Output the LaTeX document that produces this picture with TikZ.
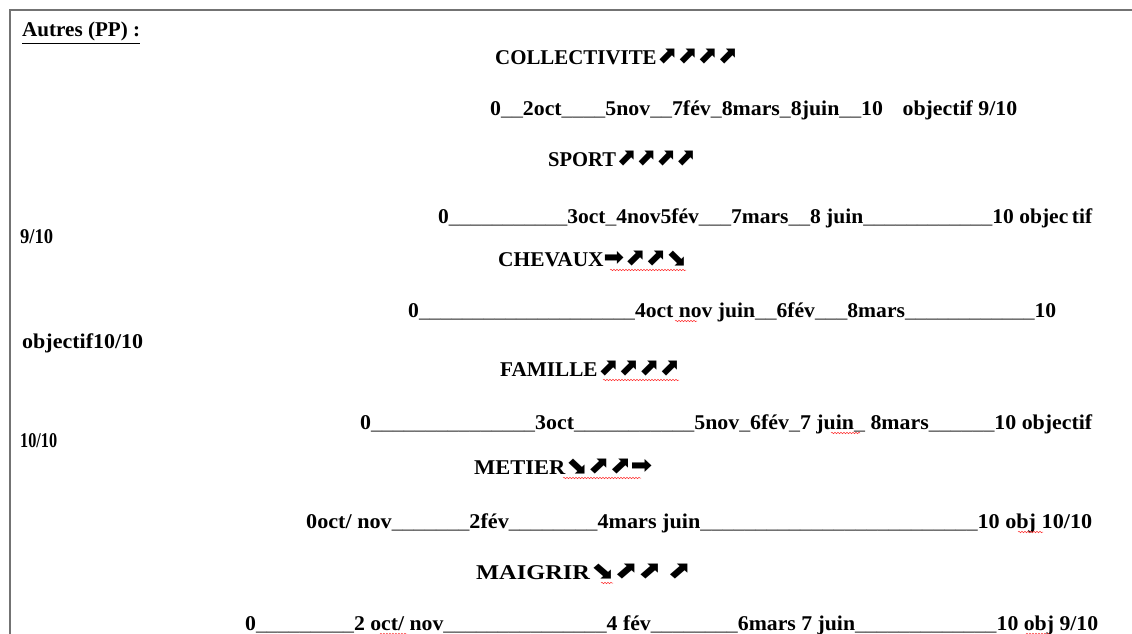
\documentclass[tikz,border=0pt]{standalone}
\usepackage{fontspec}
\setmainfont{Liberation Serif}
\newfontfamily\fleches{DejaVu Sans}
\usetikzlibrary{decorations.pathmorphing}

\newcommand\trait[1]{\textcolor{black!60}{\foreach \n in {1,...,#1}{\_}}}
\newcommand\cale[2]{\resizebox{#1pt}{\height}{#2}}
\newcommand\hausse{{\fleches\raisebox{0.5pt}{\scalebox{1.15}{⬈}}}}
\newcommand\baisse{{\fleches\raisebox{0.5pt}{\scalebox{1.15}{⬊}}}}
\newcommand\stable{{\fleches\raisebox{0.5pt}{\scalebox{1.15}{➡}}}}

\begin{document}
\begin{tikzpicture}[
    x=1pt, y=-1pt,
    titre/.style={anchor=base west, inner sep=0pt, font=\fontsize{21}{22}\selectfont\bfseries},
    ligne/.style={anchor=base west, inner sep=0pt, font=\fontsize{21}{22}\selectfont\bfseries},
    faute/.style={draw=red!80, line width=0.5pt, decorate, decoration={snake, amplitude=0.7pt, segment length=3pt}},
    cadre/.style={draw=black!55, line width=1.5pt}
]
    \useasboundingbox[fill=white] (0,0) rectangle (1132,634);
    \draw[cadre] (10,634) -- (10,10) -- (1132,10);

    \node[ligne] (autres) at (22,37) {\cale{118}{\underline{Autres (PP) :}}};

    \node[titre] (collectivite) at (495,64) {\cale{242}{COLLECTIVITE\hausse\hausse\hausse\hausse}};
    \node[ligne] (lcollectivite) at (490,115) {\cale{527}{0\trait{2}2oct\trait{4}5nov\trait{2}7fév\trait{1}8mars\trait{1}8juin\trait{2}10\hspace{0.9em}objectif 9/10}};

    \node[titre] (sport) at (548,166) {\cale{147}{SPORT\hausse\hausse\hausse\hausse}};
    \node[ligne] (lsport) at (438,223) {\cale{654}{0\trait{11}3oct\trait{1}4nov5fév\trait{3}7mars\trait{2}8 juin\trait{12}10 objec\,tif}};
    \node[ligne] (ssport) at (20,243) {\cale{33}{9/10}};

    \node[titre] (chevaux) at (498,266) {\cale{188}{CHEVAUX\stable\hausse\hausse\baisse}};
    \node[ligne] (lchevaux) at (408,317) {\cale{648}{0\trait{20}4oct nov juin\trait{2}6fév\trait{3}8mars\trait{12}10}};
    \node[ligne] (schevaux) at (22,348) {\cale{121}{objectif10/10}};

    \node[titre] (famille) at (500,376) {\cale{179}{FAMILLE\hausse\hausse\hausse\hausse}};
    \node[ligne] (lfamille) at (360,429) {\cale{732}{0\trait{15}3oct\trait{11}5nov\trait{1}6fév\trait{1}7 juin\trait{1} 8mars\trait{6}10 objectif}};
    \node[ligne] (sfamille) at (20,447) {\cale{37}{10/10}};

    \node[titre] (metier) at (474,474) {\cale{178}{METIER\baisse\hausse\hausse\stable}};
    \node[ligne] (lmetier) at (306,528) {\cale{786}{0oct/ nov\trait{7}2fév\trait{8}4mars juin\trait{25}10 obj 10/10}};

    \node[titre] (maigrir) at (476,579) {\cale{214}{MAIGRIR\baisse\hausse\hausse\ \hausse}};
    \node[ligne] (lmaigrir) at (245,630) {\cale{853}{0\trait{9}2 oct/ nov\trait{15}4 fév\trait{8}6mars 7 juin\trait{13}10 obj 9/10}};

    % soulignements du correcteur
    \draw[faute] (610,270) -- (686,270);
    \draw[faute] (603,380) -- (679,380);
    \draw[faute] (563,478) -- (641,478);
    \draw[faute] (601,583) -- (613,583);
    \draw[faute] (675,321) -- (697,321);
    \draw[faute] (831,433) -- (860,433);
    \draw[faute] (1018,532) -- (1043,532);
    \draw[faute] (380,634) -- (407,634);
    \draw[faute] (1026,634) -- (1050,634);
\end{tikzpicture}
\end{document}
